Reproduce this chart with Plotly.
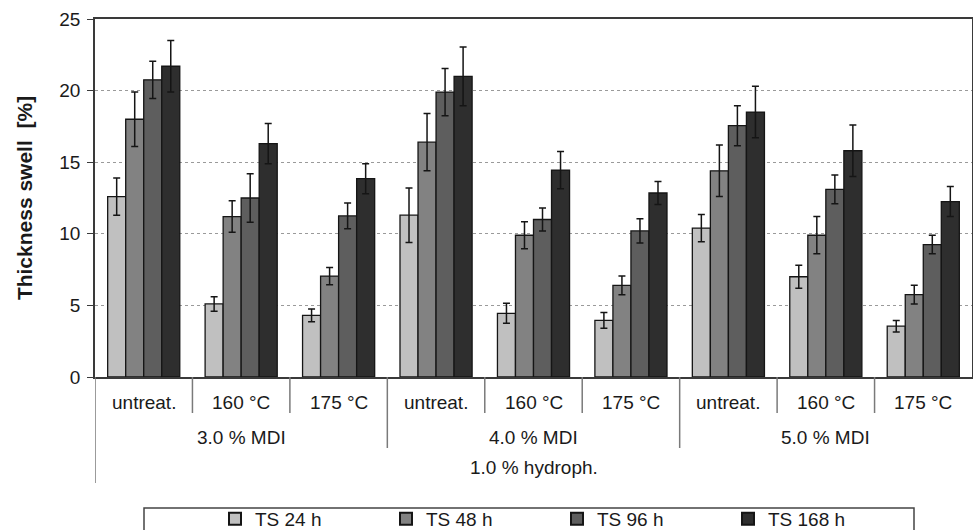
import plotly.graph_objects as go

# ---- data ----
mdi_levels = ["3.0 % MDI", "4.0 % MDI", "5.0 % MDI"]
treatments = ["untreat.", "160 °C", "175 °C"]
outer_label = "1.0 % hydroph."
series_names = ["TS 24 h", "TS 48 h", "TS 96 h", "TS 168 h"]

ts24 = [12.6, 5.1, 4.3, 11.3, 4.45, 3.95, 10.4, 7.0, 3.55]
ts48 = [18.0, 11.2, 7.05, 16.4, 9.9, 6.4, 14.4, 9.9, 5.75]
ts96 = [20.75, 12.5, 11.25, 19.9, 11.0, 10.2, 17.55, 13.1, 9.25]
ts168 = [21.7, 16.3, 13.85, 21.0, 14.45, 12.85, 18.5, 15.8, 12.25]

err24 = [1.3, 0.5, 0.45, 1.9, 0.7, 0.55, 0.95, 0.8, 0.4]
err48 = [1.9, 1.1, 0.6, 2.0, 0.95, 0.65, 1.8, 1.3, 0.65]
err96 = [1.3, 1.7, 0.9, 1.65, 0.8, 0.85, 1.4, 1.0, 0.65]
err168 = [1.8, 1.4, 1.05, 2.05, 1.3, 0.8, 1.8, 1.8, 1.05]

values = [ts24, ts48, ts96, ts168]
errors = [err24, err48, err96, err168]
colors = ["#c0c0c0", "#828282", "#5e5e5e", "#2e2e2e"]

categories = [f"{m} | {t}" for m in mdi_levels for t in treatments]

FONT = "Liberation Sans, Arial, sans-serif"

fig = go.Figure()
for name, vals, errs, col in zip(series_names, values, errors, colors):
    fig.add_trace(go.Bar(
        x=categories, y=vals, name=name,
        marker=dict(color=col, line=dict(color="#151515", width=1.3)),
        error_y=dict(type="data", array=errs, visible=True,
                     color="#151515", thickness=1.5, width=3.5),
    ))

# plot area geometry (px) for converting label positions to paper coords
PLOT_TOP, PLOT_BOTTOM = 19, 377
PH = PLOT_BOTTOM - PLOT_TOP
def py(p):
    return (PLOT_BOTTOM - p) / PH

PL, PR = 95, 972
PW = PR - PL
def px(p):
    return (p - PL) / PW

annotations = []
for c in categories:
    annotations.append(dict(x=c, xref="x", y=py(402), yref="paper",
                            text=c.split(" | ")[1], showarrow=False,
                            font=dict(size=19, family=FONT, color="#1a1a1a"),
                            yanchor="middle"))
for i, m in enumerate(mdi_levels):
    annotations.append(dict(x=categories[i * 3 + 1], xref="x", y=py(437), yref="paper",
                            text=m, showarrow=False,
                            font=dict(size=19, family=FONT, color="#1a1a1a"),
                            yanchor="middle"))
annotations.append(dict(x=categories[4], xref="x", y=py(467), yref="paper",
                        text=outer_label, showarrow=False,
                        font=dict(size=19, family=FONT, color="#1a1a1a"),
                        yanchor="middle"))

shapes = []
n = len(categories)
for i in range(n - 1):
    bottom = 448 if (i + 1) % 3 == 0 else 413
    shapes.append(dict(type="line", xref="x", yref="paper",
                       x0=i + 0.5, x1=i + 0.5, y0=0, y1=py(bottom),
                       line=dict(color="#7a7a7a", width=1.5)))
shapes.append(dict(type="line", xref="x", yref="paper",
                   x0=-0.5, x1=-0.5, y0=0, y1=py(483),
                   line=dict(color="#7a7a7a", width=1.5)))
# legend frame
shapes.append(dict(type="rect", xref="paper", yref="paper",
                   x0=px(144), x1=px(914), y0=py(508), y1=py(545),
                   line=dict(color="#444444", width=1.5), fillcolor="rgba(0,0,0,0)"))

fig.update_layout(
    width=973, height=530,
    margin=dict(l=PL, r=973 - PR, t=PLOT_TOP, b=530 - PLOT_BOTTOM, autoexpand=False),
    paper_bgcolor="white", plot_bgcolor="white",
    barmode="group", bargap=0.26, bargroupgap=0,
    font=dict(family=FONT, color="#1a1a1a"),
    showlegend=True,
    legend=dict(orientation="h", x=px(215), xanchor="left", y=py(519), yanchor="middle",
                font=dict(size=19, family=FONT, color="#1a1a1a"),
                bgcolor="rgba(0,0,0,0)", borderwidth=0,
                entrywidth=126, entrywidthmode="pixels",
                traceorder="normal", itemsizing="constant"),
    annotations=annotations,
    shapes=shapes,
)
fig.update_xaxes(type="category", showticklabels=False, ticks="",
                 showline=True, linecolor="#3a3a3a", linewidth=1.5, mirror=True,
                 showgrid=False, zeroline=False, range=[-0.5, n - 0.5])
fig.update_yaxes(range=[0, 25], dtick=5, tick0=0,
                 ticks="outside", ticklen=6, tickcolor="#3a3a3a", tickwidth=1.3,
                 ticklabelstandoff=3,
                 showline=True, linecolor="#3a3a3a", linewidth=1.5, mirror=True,
                 showgrid=True, gridcolor="#9a9a9a", griddash="dot", gridwidth=1,
                 zeroline=False,
                 tickfont=dict(size=19, family=FONT, color="#1a1a1a"),
                 title=dict(text="<b>Thickness swell\u00a0 [%]</b>",
                            font=dict(size=21, family=FONT, color="#1a1a1a"),
                            standoff=21))

fig.write_html("out.html")
